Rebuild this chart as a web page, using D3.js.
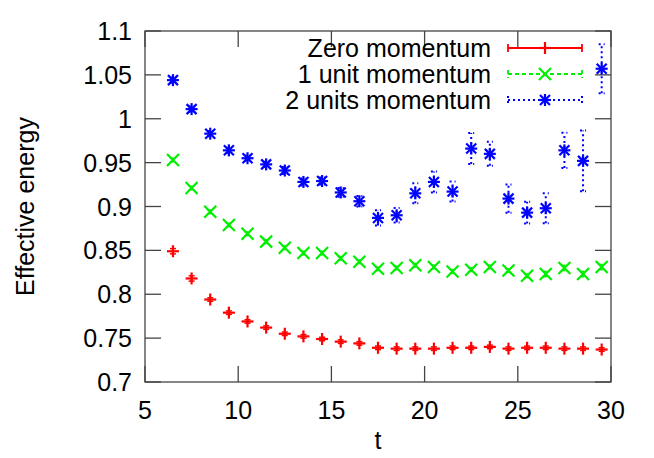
<!DOCTYPE html>
<html><head><meta charset="utf-8">
<script src="https://cdn.jsdelivr.net/npm/d3@7"></script>
<style>body{margin:0;background:#fff}svg{display:block}text{font-family:"Liberation Sans",Arial,sans-serif;fill:#000}</style>
</head><body>
<svg id="c" width="654" height="458"></svg>
<script>
const tValues = [6.5,7.5,8.5,9.5,10.5,11.5,12.5,13.5,14.5,15.5,16.5,17.5,18.5,19.5,20.5,21.5,22.5,23.5,24.5,25.5,26.5,27.5,28.5,29.5];
const zeroMomentum = [0.849,0.818,0.794,0.779,0.769,0.762,0.755,0.752,0.749,0.746,0.744,0.739,0.738,0.738,0.738,0.739,0.739,0.740,0.738,0.739,0.739,0.738,0.738,0.737];
const zeroErr = [0.003,0.003,0.002,0.002,0.002,0.002,0.002,0.002,0.002,0.002,0.002,0.002,0.002,0.002,0.002,0.002,0.002,0.002,0.002,0.002,0.002,0.002,0.002,0.002];
const oneUnit = [0.953,0.921,0.894,0.879,0.869,0.860,0.853,0.847,0.847,0.841,0.837,0.829,0.830,0.833,0.831,0.826,0.828,0.831,0.827,0.821,0.823,0.830,0.823,0.831];
const oneErr = [0.002,0.002,0.002,0.002,0.002,0.002,0.002,0.002,0.002,0.002,0.002,0.002,0.002,0.002,0.002,0.002,0.002,0.002,0.002,0.002,0.003,0.003,0.003,0.003];
const twoUnits = [1.044,1.011,0.983,0.964,0.955,0.948,0.941,0.928,0.929,0.916,0.906,0.887,0.890,0.915,0.928,0.917,0.966,0.960,0.909,0.893,0.898,0.964,0.952,1.057];
const twoErr = [0.003,0.003,0.003,0.003,0.003,0.003,0.004,0.004,0.004,0.005,0.006,0.0087,0.0083,0.0114,0.012,0.0114,0.0177,0.0137,0.016,0.0125,0.017,0.02,0.0345,0.028];
const xTicks = [5,10,15,20,25,30];
const yTicks = [0.7,0.75,0.8,0.85,0.9,0.95,1,1.05,1.1];
const seriesNames = ["Zero momentum","1 unit momentum","2 units momentum"];
const seriesColors = ["#ff0000","#00ee00","#0000ff"];

const svg = d3.select("#c");
const L=145, R=611, T=31, B=382;
const x = d3.scaleLinear().domain([5,30]).range([L,R]);
const y = d3.scaleLinear().domain([0.7,1.1]).range([B,T]);
const FS = 25;
const axisCol = "#444";

svg.append("rect").attr("x",L).attr("y",T).attr("width",R-L).attr("height",B-T)
  .attr("fill","none").attr("stroke",axisCol).attr("stroke-width",1.3);

const tl = 16;
const gx = svg.append("g");
xTicks.forEach(v=>{
  gx.append("line").attr("x1",x(v)).attr("x2",x(v)).attr("y1",B).attr("y2",B-tl).attr("stroke",axisCol).attr("stroke-width",1.3);
  gx.append("line").attr("x1",x(v)).attr("x2",x(v)).attr("y1",T).attr("y2",T+tl).attr("stroke",axisCol).attr("stroke-width",1.3);
  gx.append("text").attr("x",x(v)).attr("y",B+37).attr("text-anchor","middle").attr("font-size",FS).text(d3.format("d")(v));
});
yTicks.forEach(v=>{
  gx.append("line").attr("x1",L).attr("x2",L+tl).attr("y1",y(v)).attr("y2",y(v)).attr("stroke",axisCol).attr("stroke-width",1.3);
  gx.append("line").attr("x1",R).attr("x2",R-tl).attr("y1",y(v)).attr("y2",y(v)).attr("stroke",axisCol).attr("stroke-width",1.3);
  gx.append("text").attr("x",L-13).attr("y",y(v)).attr("dy","0.36em").attr("text-anchor","end").attr("font-size",FS).text(String(v));
});
svg.append("text").attr("x",x(17.5)).attr("y",449).attr("text-anchor","middle").attr("font-size",FS).text("t");
svg.append("text").attr("transform",`translate(34,${(T+B)/2}) rotate(-90)`).attr("text-anchor","middle").attr("font-size",FS).text("Effective energy");

function marker(g, type, cx, cy, col){
  const s=6;
  const add=(x1,y1,x2,y2)=>g.append("line").attr("x1",x1).attr("y1",y1).attr("x2",x2).attr("y2",y2).attr("stroke",col).attr("stroke-width",2.2);
  if(type===0){ add(cx-s,cy,cx+s,cy); add(cx,cy-s,cx,cy+s); }
  else if(type===1){ add(cx-s,cy-s,cx+s,cy+s); add(cx-s,cy+s,cx+s,cy-s); }
  else { add(cx-s,cy,cx+s,cy); add(cx,cy-s,cx,cy+s); add(cx-s+1,cy-s+1,cx+s-1,cy+s-1); add(cx-s+1,cy+s-1,cx+s-1,cy-s+1); }
}
const dashes = [null,"4,3","2,3"];
const allVals=[zeroMomentum,oneUnit,twoUnits], allErr=[zeroErr,oneErr,twoErr];
allVals.forEach((vals,si)=>{
  const g = svg.append("g");
  const col = seriesColors[si];
  vals.forEach((v,i)=>{
    const cx=x(tValues[i]), e=allErr[si][i];
    const y1=y(v-e), y2=y(v+e);
    const eb = (a,b,c,d)=>g.append("line").attr("x1",a).attr("y1",b).attr("x2",c).attr("y2",d).attr("stroke",col).attr("stroke-width",si===2?2:1.5).attr("stroke-dasharray",dashes[si]);
    eb(cx,y1,cx,y2);
    eb(cx-3,y1,cx+3,y1); eb(cx-3,y2,cx+3,y2);
    marker(g, si, cx, y(v), col);
  });
});

const lg = svg.append("g");
const rowsY=[48,74,100];
seriesNames.forEach((n,i)=>{
  const yy=rowsY[i];
  lg.append("text").attr("x",491).attr("y",yy).attr("dy","0.36em").attr("text-anchor","end").attr("font-size",FS).text(n);
  const col=seriesColors[i];
  const ln=(a,b,c,d)=>lg.append("line").attr("x1",a).attr("y1",b).attr("x2",c).attr("y2",d).attr("stroke",col).attr("stroke-width",i===2?2:1.8).attr("stroke-dasharray",dashes[i]);
  ln(508,yy,582,yy);
  ln(508,yy-4,508,yy+4); ln(582,yy-4,582,yy+4);
  marker(lg,i,545,yy,col);
});
</script>
</body></html>
